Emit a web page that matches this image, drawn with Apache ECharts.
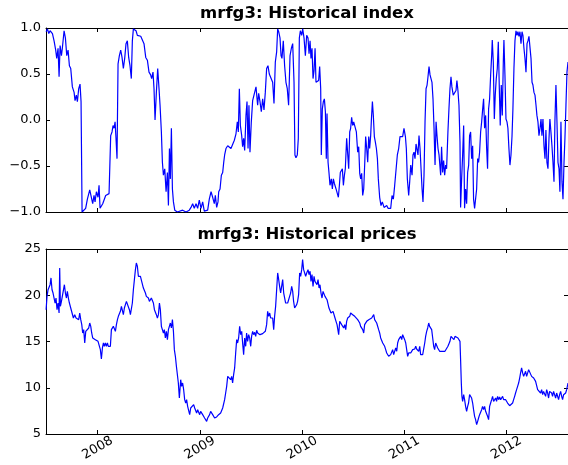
<!DOCTYPE html>
<html>
<head>
<meta charset="utf-8">
<title>mrfg3</title>
<script src="https://cdn.jsdelivr.net/npm/echarts@6/dist/echarts.min.js"></script>
<style>
  html, body { margin: 0; padding: 0; background: #fff; }
  #main { width: 568px; height: 465px; }
</style>
</head>
<body>
<div id="main"></div>
<script>
// time is in decimal years
const yearTicks = [2008, 2009, 2010, 2011, 2012];
const indexTicks = [-1, -0.5, 0, 0.5, 1];
const priceTicks = [5, 10, 15, 20, 25];

// historical index  [year, value]
const indexPoints = [
  [2007.495,0.96],[2007.508,0.99],[2007.521,0.94],[2007.534,0.97],[2007.547,0.96],[2007.557,0.94],
  [2007.573,0.86],[2007.589,0.76],[2007.599,0.67],[2007.612,0.78],[2007.622,0.47],[2007.632,0.81],
  [2007.645,0.70],[2007.654,0.78],[2007.671,0.97],[2007.684,0.89],[2007.697,0.70],[2007.710,0.76],
  [2007.723,0.59],[2007.736,0.56],[2007.752,0.36],[2007.769,0.30],[2007.778,0.21],[2007.791,0.27],
  [2007.801,0.20],[2007.814,0.34],[2007.827,0.39],[2007.837,0.20],[2007.847,-1.0],[2007.866,-1.0],
  [2007.882,-0.96],[2007.899,-0.86],[2007.922,-0.76],[2007.938,-0.78],[2007.951,-0.91],[2007.964,-0.82],
  [2007.974,-0.89],[2007.987,-0.78],[2008.003,-0.84],[2008.013,-0.71],[2008.023,-0.96],[2008.036,-0.96],
  [2008.049,-0.91],[2008.062,-0.89],[2008.078,-0.82],[2008.094,-0.84],[2008.111,-0.80],[2008.127,-0.17],
  [2008.140,-0.13],[2008.150,-0.06],[2008.160,-0.09],[2008.170,-0.02],[2008.179,-0.20],[2008.189,-0.42],
  [2008.199,0.61],[2008.212,0.70],[2008.225,0.76],[2008.238,0.68],[2008.251,0.56],[2008.264,0.67],
  [2008.277,0.83],[2008.290,0.86],[2008.303,0.68],[2008.316,0.59],[2008.329,0.45],[2008.339,0.86],
  [2008.349,0.99],[2008.362,1.0],[2008.375,0.97],[2008.388,0.92],[2008.404,0.94],[2008.421,0.91],
  [2008.437,0.91],[2008.453,0.83],[2008.470,0.68],[2008.486,0.65],[2008.502,0.52],[2008.518,0.49],
  [2008.528,0.45],[2008.541,0.52],[2008.551,0.34],[2008.561,0.0],[2008.574,0.30],[2008.587,0.56],
  [2008.600,0.34],[2008.610,0.16],[2008.623,-0.13],[2008.633,-0.46],[2008.643,-0.60],[2008.656,-0.53],
  [2008.669,-0.78],[2008.682,-0.57],[2008.692,-0.93],[2008.702,-0.31],[2008.711,-0.64],[2008.721,-0.09],
  [2008.731,-0.75],[2008.741,-0.89],[2008.754,-0.98],[2008.780,-1.0],[2008.831,-0.98],[2008.864,-1.0],
  [2008.896,-0.98],[2008.913,-0.95],[2008.929,-0.91],[2008.945,-0.96],[2008.962,-0.91],[2008.978,-0.96],
  [2008.994,-0.87],[2009.011,-0.96],[2009.027,-0.89],[2009.043,-0.99],[2009.060,-1.0],[2009.076,-0.98],
  [2009.092,-0.86],[2009.109,-0.78],[2009.125,-0.84],[2009.141,-0.91],[2009.151,-0.82],[2009.164,-0.95],
  [2009.177,-0.89],[2009.184,-0.78],[2009.197,-0.75],[2009.210,-0.60],[2009.223,-0.57],[2009.233,-0.46],
  [2009.242,-0.38],[2009.255,-0.31],[2009.272,-0.28],[2009.288,-0.29],[2009.304,-0.31],[2009.321,-0.33],
  [2009.337,-0.22],[2009.353,-0.15],[2009.366,-0.02],[2009.376,-0.13],[2009.386,0.34],[2009.396,-0.06],
  [2009.409,-0.17],[2009.418,-0.29],[2009.428,-0.20],[2009.438,-0.33],[2009.451,0.05],[2009.461,0.20],
  [2009.471,-0.31],[2009.480,0.16],[2009.490,-0.35],[2009.503,-0.02],[2009.516,0.21],[2009.533,0.20],
  [2009.549,0.36],[2009.565,0.16],[2009.575,0.29],[2009.588,0.20],[2009.601,0.09],[2009.614,0.23],
  [2009.627,0.11],[2009.640,0.30],[2009.653,0.56],[2009.666,0.59],[2009.679,0.50],[2009.696,0.52],
  [2009.712,0.41],[2009.725,0.18],[2009.738,0.63],[2009.751,0.74],[2009.761,0.99],[2009.771,0.96],
  [2009.784,0.89],[2009.794,0.70],[2009.803,0.67],[2009.816,0.86],[2009.829,0.59],[2009.842,0.41],
  [2009.855,0.34],[2009.868,0.16],[2009.882,0.70],[2009.895,0.78],[2009.908,0.83],[2009.921,0.41],
  [2009.930,-0.38],[2009.940,-0.41],[2009.953,-0.38],[2009.963,-0.20],[2009.973,0.89],[2009.983,0.97],
  [2009.996,0.92],[2010.006,0.99],[2010.019,0.89],[2010.032,0.70],[2010.045,0.92],[2010.058,0.89],
  [2010.068,0.72],[2010.078,0.86],[2010.087,0.67],[2010.097,0.78],[2010.107,0.45],[2010.117,0.54],
  [2010.127,0.78],[2010.136,0.41],[2010.149,0.39],[2010.162,0.43],[2010.172,0.58],[2010.182,0.34],
  [2010.188,-0.38],[2010.198,0.12],[2010.208,0.20],[2010.218,0.23],[2010.228,0.09],[2010.237,-0.42],
  [2010.244,0.07],[2010.254,-0.46],[2010.263,-0.57],[2010.273,-0.71],[2010.286,-0.64],[2010.296,-0.75],
  [2010.306,-0.64],[2010.316,-0.69],[2010.325,-0.71],[2010.335,-0.76],[2010.345,-0.80],[2010.355,-0.84],
  [2010.365,-0.71],[2010.374,-0.57],[2010.384,-0.58],[2010.394,-0.53],[2010.404,-0.71],[2010.414,-0.60],
  [2010.423,-0.53],[2010.436,-0.20],[2010.446,-0.18],[2010.456,-0.53],[2010.466,-0.13],[2010.475,-0.09],
  [2010.485,0.03],[2010.495,-0.06],[2010.505,-0.02],[2010.518,-0.02],[2010.531,-0.13],[2010.544,-0.35],
  [2010.554,-0.29],[2010.564,-0.58],[2010.573,-0.64],[2010.583,-0.58],[2010.593,-0.82],[2010.603,-0.75],
  [2010.613,-0.47],[2010.622,-0.18],[2010.632,-0.31],[2010.642,-0.46],[2010.652,-0.18],[2010.661,-0.31],
  [2010.671,-0.17],[2010.678,0.0],[2010.688,0.20],[2010.697,0.05],[2010.707,-0.18],[2010.717,-0.24],
  [2010.727,-0.31],[2010.737,-0.42],[2010.746,-0.64],[2010.759,-0.84],[2010.772,-0.93],[2010.785,-0.89],
  [2010.802,-0.95],[2010.815,-0.95],[2010.828,-0.93],[2010.841,-0.96],[2010.854,-0.98],[2010.867,-0.96],
  [2010.880,-0.82],[2010.893,-0.86],[2010.906,-0.71],[2010.919,-0.69],[2010.932,-0.38],[2010.945,-0.31],
  [2010.958,-0.18],[2010.971,-0.20],[2010.984,-0.18],[2010.997,-0.09],[2011.011,-0.18],[2011.020,-0.31],
  [2011.030,-0.64],[2011.043,-0.82],[2011.053,-0.67],[2011.063,-0.49],[2011.076,-0.60],[2011.085,-0.38],
  [2011.095,-0.35],[2011.105,-0.42],[2011.115,-0.26],[2011.125,-0.24],[2011.134,-0.38],[2011.144,-0.17],
  [2011.154,-0.31],[2011.164,-0.53],[2011.174,-0.75],[2011.183,-0.89],[2011.193,-0.60],[2011.203,-0.02],
  [2011.213,0.34],[2011.223,0.38],[2011.232,0.47],[2011.242,0.58],[2011.252,0.49],[2011.262,0.47],
  [2011.271,0.41],[2011.281,0.23],[2011.291,-0.09],[2011.301,-0.49],[2011.311,-0.02],[2011.320,-0.17],
  [2011.330,-0.31],[2011.340,-0.38],[2011.350,-0.37],[2011.356,-0.60],[2011.365,-0.29],[2011.375,-0.57],
  [2011.385,-0.44],[2011.395,-0.60],[2011.405,-0.49],[2011.414,-0.53],[2011.427,-0.13],[2011.437,0.12],
  [2011.447,0.34],[2011.457,0.47],[2011.466,0.36],[2011.479,0.27],[2011.493,0.29],[2011.506,0.32],
  [2011.515,0.43],[2011.525,0.32],[2011.535,0.16],[2011.545,-0.24],[2011.551,-0.95],[2011.561,-0.64],
  [2011.571,-0.38],[2011.581,-0.06],[2011.590,-0.96],[2011.600,-0.75],[2011.610,-0.91],[2011.620,-0.57],
  [2011.630,-0.49],[2011.639,-0.17],[2011.649,-0.13],[2011.659,-0.42],[2011.669,-0.28],[2011.678,-0.86],
  [2011.688,-0.96],[2011.698,-0.98],[2011.708,-0.75],[2011.718,-0.42],[2011.727,-0.46],[2011.737,-0.35],
  [2011.747,-0.13],[2011.757,-0.02],[2011.767,0.12],[2011.776,0.23],[2011.786,-0.09],[2011.796,0.05],
  [2011.806,-0.31],[2011.815,-0.53],[2011.825,0.12],[2011.835,0.23],[2011.845,0.49],[2011.855,0.70],
  [2011.861,0.87],[2011.871,0.63],[2011.881,0.01],[2011.890,0.27],[2011.900,0.45],[2011.910,0.56],
  [2011.920,0.85],[2011.930,0.34],[2011.939,-0.06],[2011.949,0.38],[2011.959,0.05],[2011.969,0.63],
  [2011.975,0.87],[2011.985,0.49],[2011.995,0.01],[2012.005,-0.02],[2012.014,-0.09],[2012.024,-0.31],
  [2012.034,-0.49],[2012.044,-0.38],[2012.054,-0.18],[2012.063,0.12],[2012.073,0.56],[2012.083,0.86],
  [2012.093,0.97],[2012.103,0.92],[2012.112,0.96],[2012.122,0.91],[2012.132,0.96],[2012.142,0.83],
  [2012.152,0.96],[2012.161,0.92],[2012.171,0.78],[2012.181,0.67],[2012.191,0.52],[2012.201,0.83],
  [2012.210,0.86],[2012.220,0.91],[2012.230,0.89],[2012.240,0.67],[2012.250,0.41],[2012.259,0.38],
  [2012.269,0.30],[2012.279,0.27],[2012.289,0.16],[2012.298,0.05],[2012.308,-0.02],[2012.318,-0.17],
  [2012.328,-0.09],[2012.338,0.01],[2012.347,-0.17],[2012.357,0.01],[2012.367,-0.28],[2012.377,-0.42],
  [2012.386,-0.11],[2012.396,-0.46],[2012.406,-0.53],[2012.416,-0.20],[2012.425,0.01],[2012.435,-0.13],
  [2012.445,-0.28],[2012.455,-0.46],[2012.465,-0.67],[2012.474,-0.02],[2012.484,0.38],[2012.494,-0.02],
  [2012.504,-0.46],[2012.514,-0.53],[2012.523,-0.78],[2012.533,-0.02],[2012.543,-0.67],[2012.553,-0.86],
  [2012.563,-0.46],[2012.572,-0.20],[2012.582,0.16],[2012.592,0.52],[2012.602,0.63]
];

// historical prices  [year, price]
const pricePoints = [
  [2007.495,18.44],[2007.504,19.88],[2007.514,20.60],[2007.524,20.78],[2007.534,21.14],[2007.543,21.87],
  [2007.553,20.60],[2007.563,20.24],[2007.573,20.42],[2007.583,19.16],[2007.592,19.70],[2007.602,18.44],
  [2007.612,19.16],[2007.622,18.08],[2007.628,22.95],[2007.635,18.80],[2007.645,19.34],[2007.654,19.16],
  [2007.664,19.52],[2007.674,21.14],[2007.684,20.24],[2007.694,19.70],[2007.703,20.42],[2007.713,19.70],
  [2007.723,19.16],[2007.736,18.98],[2007.749,18.08],[2007.762,17.54],[2007.775,17.90],[2007.788,17.54],
  [2007.801,17.72],[2007.814,17.36],[2007.824,18.08],[2007.834,17.36],[2007.844,16.82],[2007.853,15.92],
  [2007.863,16.28],[2007.873,14.84],[2007.883,16.10],[2007.892,16.10],[2007.902,16.28],[2007.912,16.46],
  [2007.922,17.00],[2007.932,16.64],[2007.941,15.92],[2007.951,15.38],[2007.964,15.20],[2007.977,15.20],
  [2007.990,15.02],[2008.003,15.02],[2008.016,14.84],[2008.026,14.12],[2008.036,13.11],[2008.046,14.30],
  [2008.056,14.84],[2008.065,14.48],[2008.075,14.84],[2008.085,14.48],[2008.095,14.84],[2008.104,14.48],
  [2008.114,14.30],[2008.124,14.48],[2008.134,16.28],[2008.144,16.46],[2008.153,16.64],[2008.163,16.82],
  [2008.173,16.10],[2008.183,16.82],[2008.193,17.36],[2008.202,17.72],[2008.212,17.90],[2008.222,18.26],
  [2008.232,18.80],[2008.241,18.98],[2008.251,17.90],[2008.261,18.62],[2008.271,18.98],[2008.281,19.34],
  [2008.290,19.52],[2008.300,19.16],[2008.310,18.44],[2008.320,17.90],[2008.330,17.72],[2008.339,19.16],
  [2008.349,20.60],[2008.359,21.69],[2008.369,22.77],[2008.378,23.49],[2008.388,23.13],[2008.398,22.05],
  [2008.408,22.23],[2008.418,22.05],[2008.427,22.23],[2008.437,22.05],[2008.447,20.78],[2008.457,20.60],
  [2008.467,20.24],[2008.476,19.88],[2008.486,19.88],[2008.496,19.70],[2008.506,19.34],[2008.515,19.52],
  [2008.525,19.70],[2008.535,19.52],[2008.545,19.16],[2008.555,18.44],[2008.564,18.62],[2008.574,17.90],
  [2008.584,17.54],[2008.594,17.90],[2008.604,19.16],[2008.613,18.44],[2008.623,16.64],[2008.633,16.46],
  [2008.643,15.92],[2008.652,16.28],[2008.662,15.38],[2008.672,16.10],[2008.682,15.20],[2008.692,16.28],
  [2008.701,16.10],[2008.711,17.00],[2008.721,16.46],[2008.731,17.36],[2008.741,16.10],[2008.750,14.12],
  [2008.760,13.40],[2008.770,12.32],[2008.780,12.14],[2008.789,10.51],[2008.799,8.89],[2008.812,10.87],
  [2008.821,10.15],[2008.831,10.51],[2008.841,9.79],[2008.851,8.71],[2008.861,8.35],[2008.870,8.71],
  [2008.880,7.99],[2008.890,8.17],[2008.900,7.09],[2008.910,7.81],[2008.919,7.63],[2008.929,7.99],
  [2008.939,8.17],[2008.949,7.81],[2008.958,7.63],[2008.968,7.27],[2008.978,7.63],[2008.988,7.45],
  [2008.998,7.09],[2009.007,7.45],[2009.017,7.27],[2009.027,7.09],[2009.037,6.91],[2009.046,6.73],
  [2009.056,6.55],[2009.066,6.37],[2009.076,6.73],[2009.086,6.91],[2009.095,7.09],[2009.105,7.45],
  [2009.115,7.27],[2009.125,7.09],[2009.135,6.91],[2009.144,6.73],[2009.154,6.91],[2009.164,6.84],
  [2009.174,6.91],[2009.183,7.09],[2009.193,7.09],[2009.203,7.27],[2009.213,7.45],[2009.223,7.81],
  [2009.232,7.99],[2009.242,8.71],[2009.252,9.43],[2009.262,10.15],[2009.272,11.23],[2009.281,11.41],
  [2009.291,11.05],[2009.301,10.87],[2009.311,11.23],[2009.320,10.51],[2009.330,11.41],[2009.340,12.14],
  [2009.350,13.76],[2009.360,15.20],[2009.369,14.84],[2009.379,15.38],[2009.389,16.64],[2009.399,15.74],
  [2009.409,16.10],[2009.418,14.84],[2009.428,13.58],[2009.438,15.38],[2009.448,14.48],[2009.457,15.92],
  [2009.467,15.02],[2009.477,15.74],[2009.487,15.38],[2009.497,14.48],[2009.506,15.56],[2009.516,16.10],
  [2009.526,15.74],[2009.536,15.99],[2009.546,15.56],[2009.555,16.21],[2009.565,15.92],[2009.575,15.85],
  [2009.588,15.74],[2009.601,15.92],[2009.614,15.85],[2009.627,15.92],[2009.640,16.10],[2009.653,16.82],
  [2009.663,18.26],[2009.673,17.72],[2009.683,18.08],[2009.692,17.54],[2009.702,17.36],[2009.712,17.54],
  [2009.722,16.28],[2009.731,17.72],[2009.741,18.80],[2009.751,18.98],[2009.761,22.41],[2009.771,21.69],
  [2009.780,20.96],[2009.790,20.24],[2009.800,20.96],[2009.810,21.69],[2009.820,20.24],[2009.829,20.06],
  [2009.839,19.16],[2009.849,19.34],[2009.859,19.16],[2009.868,18.98],[2009.878,19.88],[2009.888,20.24],
  [2009.898,20.96],[2009.908,20.42],[2009.917,19.34],[2009.927,18.62],[2009.937,18.80],[2009.947,18.98],
  [2009.956,19.34],[2009.966,20.06],[2009.976,22.41],[2009.986,22.05],[2009.996,22.77],[2010.005,23.85],
  [2010.015,22.77],[2010.025,22.95],[2010.035,22.05],[2010.045,22.41],[2010.058,22.77],[2010.068,22.23],
  [2010.078,22.59],[2010.087,21.50],[2010.097,22.23],[2010.107,20.96],[2010.117,22.05],[2010.126,21.50],
  [2010.136,21.69],[2010.146,21.14],[2010.156,21.69],[2010.166,20.78],[2010.175,21.14],[2010.185,20.24],
  [2010.195,19.70],[2010.205,20.42],[2010.215,20.24],[2010.224,19.88],[2010.234,20.06],[2010.244,19.52],
  [2010.254,19.34],[2010.263,18.62],[2010.273,18.44],[2010.283,18.08],[2010.293,18.26],[2010.303,18.26],
  [2010.312,18.08],[2010.322,17.54],[2010.332,17.18],[2010.342,16.82],[2010.352,16.82],[2010.358,15.74],
  [2010.368,17.18],[2010.378,17.36],[2010.387,16.82],[2010.397,16.64],[2010.407,16.46],[2010.417,16.82],
  [2010.427,16.28],[2010.436,17.18],[2010.446,17.54],[2010.456,17.36],[2010.466,17.72],[2010.475,18.08],
  [2010.485,18.26],[2010.495,17.90],[2010.505,18.01],[2010.515,17.72],[2010.524,17.90],[2010.534,17.54],
  [2010.544,17.36],[2010.554,17.54],[2010.564,17.00],[2010.573,16.64],[2010.583,16.46],[2010.593,16.28],
  [2010.603,15.92],[2010.612,16.82],[2010.622,17.00],[2010.632,17.18],[2010.642,17.07],[2010.652,17.36],
  [2010.661,17.18],[2010.671,17.43],[2010.681,17.54],[2010.691,17.72],[2010.701,17.90],[2010.710,17.36],
  [2010.720,17.18],[2010.730,17.00],[2010.740,16.82],[2010.749,16.28],[2010.759,15.92],[2010.769,15.38],
  [2010.779,15.20],[2010.789,14.84],[2010.798,14.66],[2010.808,14.48],[2010.818,14.12],[2010.828,13.76],
  [2010.838,13.76],[2010.847,13.40],[2010.857,13.22],[2010.867,13.58],[2010.877,13.40],[2010.886,14.12],
  [2010.896,13.58],[2010.906,13.76],[2010.916,14.30],[2010.926,13.94],[2010.935,14.84],[2010.945,15.20],
  [2010.955,15.38],[2010.965,15.56],[2010.975,15.20],[2010.984,15.74],[2010.994,15.56],[2011.004,15.20],
  [2011.014,14.84],[2011.023,14.84],[2011.033,13.40],[2011.043,13.76],[2011.053,13.69],[2011.063,13.76],
  [2011.072,13.83],[2011.082,14.12],[2011.092,14.30],[2011.102,14.19],[2011.112,14.48],[2011.121,14.19],
  [2011.131,14.30],[2011.141,13.94],[2011.151,14.48],[2011.160,13.58],[2011.170,13.40],[2011.180,13.58],
  [2011.190,13.76],[2011.200,14.84],[2011.209,15.56],[2011.219,16.10],[2011.229,16.46],[2011.239,17.00],
  [2011.248,16.64],[2011.258,16.46],[2011.268,16.28],[2011.278,15.38],[2011.288,14.48],[2011.297,14.12],
  [2011.307,14.84],[2011.317,14.66],[2011.327,14.30],[2011.337,14.12],[2011.346,13.94],[2011.356,14.12],
  [2011.378,13.94],[2011.388,14.12],[2011.398,13.94],[2011.408,14.05],[2011.417,14.12],[2011.427,14.48],
  [2011.437,14.66],[2011.447,15.02],[2011.457,15.56],[2011.466,15.74],[2011.476,15.38],[2011.486,15.20],
  [2011.496,15.56],[2011.506,15.38],[2011.515,15.74],[2011.525,15.38],[2011.535,15.20],[2011.545,15.02],
  [2011.551,13.04],[2011.558,10.51],[2011.564,9.07],[2011.571,8.53],[2011.581,9.25],[2011.590,8.71],
  [2011.600,7.99],[2011.610,7.45],[2011.620,7.99],[2011.629,8.35],[2011.639,9.25],[2011.649,9.43],
  [2011.659,8.89],[2011.669,8.35],[2011.678,7.63],[2011.688,6.91],[2011.698,6.55],[2011.708,6.01],
  [2011.718,6.37],[2011.727,6.73],[2011.737,7.09],[2011.747,7.27],[2011.757,7.63],[2011.766,7.99],
  [2011.776,7.63],[2011.786,7.99],[2011.796,7.45],[2011.806,7.27],[2011.815,6.91],[2011.825,6.55],
  [2011.835,7.99],[2011.845,8.35],[2011.855,8.71],[2011.864,9.07],[2011.874,8.53],[2011.884,8.71],
  [2011.894,8.89],[2011.903,8.53],[2011.913,9.07],[2011.923,8.71],[2011.933,9.00],[2011.943,8.71],
  [2011.952,8.89],[2011.962,9.07],[2011.972,8.71],[2011.982,8.89],[2011.992,8.71],[2012.001,8.53],
  [2012.011,8.35],[2012.021,8.17],[2012.031,8.06],[2012.040,8.06],[2012.050,8.17],[2012.060,8.35],
  [2012.070,8.71],[2012.080,9.07],[2012.089,9.43],[2012.099,9.79],[2012.109,10.15],[2012.119,10.51],
  [2012.129,11.05],[2012.138,11.60],[2012.148,12.14],[2012.158,11.60],[2012.168,11.23],[2012.177,11.41],
  [2012.187,11.78],[2012.197,11.23],[2012.207,11.41],[2012.217,11.96],[2012.226,12.03],[2012.236,11.78],
  [2012.246,11.23],[2012.256,11.31],[2012.266,11.05],[2012.275,10.87],[2012.285,10.69],[2012.295,10.51],
  [2012.305,9.79],[2012.314,9.61],[2012.324,9.79],[2012.334,9.43],[2012.344,9.79],[2012.354,9.25],
  [2012.363,9.61],[2012.373,9.61],[2012.383,9.07],[2012.393,9.79],[2012.403,9.43],[2012.412,8.89],
  [2012.422,9.61],[2012.432,9.79],[2012.442,9.43],[2012.451,9.07],[2012.461,9.61],[2012.471,9.79],
  [2012.481,8.89],[2012.491,9.43],[2012.500,9.61],[2012.510,8.71],[2012.520,9.25],[2012.530,9.61],
  [2012.540,9.07],[2012.549,8.71],[2012.559,9.25],[2012.569,9.07],[2012.579,9.43],[2012.589,9.79],
  [2012.602,10.51]
];

const xMin = 2007.494;
const xMax = 2012.602;

const FONT = 'DejaVu Sans';
// spines stay on the frame, never on zero
const frame = { show: true, onZero: false, lineStyle: { color: '#000', width: 1 } };

// x axis (bottom or top spine) of one subplot
function xAxisOf(gridIndex, position, withLabels) {
  return {
    type: 'value', gridIndex: gridIndex, position: position,
    min: xMin, max: xMax,
    axisLine: frame,
    axisTick: { show: true, inside: true, length: 4, customValues: yearTicks, lineStyle: { color: '#000' } },
    axisLabel: withLabels ? {
      show: true, customValues: yearTicks, rotate: 30, margin: 14,
      align: 'center', verticalAlign: 'middle',
      fontFamily: FONT, fontSize: 13, color: '#000',
      formatter: v => String(v)
    } : { show: false },
    splitLine: { show: false }
  };
}

// y axis (left or right spine) of one subplot
function yAxisOf(gridIndex, position, ticks, fmt) {
  return {
    type: 'value', gridIndex: gridIndex, position: position,
    min: ticks[0], max: ticks[ticks.length - 1], interval: ticks[1] - ticks[0],
    axisLine: frame,
    axisTick: { show: true, inside: true, length: 4, lineStyle: { color: '#000' } },
    axisLabel: fmt ? { show: true, margin: 5, fontFamily: FONT, fontSize: 13, color: '#000', formatter: fmt } : { show: false },
    splitLine: { show: false }
  };
}

const indexFmt = v => (v < 0 ? '\u2212' : '') + Math.abs(v).toFixed(1);
const priceFmt = v => String(v);

const chart = echarts.init(document.getElementById('main'));
chart.setOption({
  animation: false,
  backgroundColor: '#fff',
  title: [
    { text: 'mrfg3: Historical index', left: 307, top: 5, textAlign: 'center', padding: 0,
      textStyle: { fontFamily: FONT, fontWeight: 'bold', fontSize: 16.5, color: '#000' } },
    { text: 'mrfg3: Historical prices', left: 307, top: 226, textAlign: 'center', padding: 0,
      textStyle: { fontFamily: FONT, fontWeight: 'bold', fontSize: 16.5, color: '#000' } }
  ],
  grid: [
    { left: 46, right: 0, top: 28, height: 184 },
    { left: 46, right: 0, top: 249, height: 185 }
  ],
  xAxis: [
    xAxisOf(0, 'bottom', false),
    xAxisOf(0, 'top', false),
    xAxisOf(1, 'bottom', true),
    xAxisOf(1, 'top', false)
  ],
  yAxis: [
    yAxisOf(0, 'left', indexTicks, indexFmt),
    yAxisOf(0, 'right', indexTicks, null),
    yAxisOf(1, 'left', priceTicks, priceFmt),
    yAxisOf(1, 'right', priceTicks, null)
  ],
  series: [
    {
      name: 'index', type: 'line', xAxisIndex: 0, yAxisIndex: 0,
      data: indexPoints, showSymbol: false, clip: true,
      lineStyle: { color: '#0000ff', width: 1.2 }
    },
    {
      name: 'prices', type: 'line', xAxisIndex: 2, yAxisIndex: 2,
      data: pricePoints, showSymbol: false, clip: true,
      lineStyle: { color: '#0000ff', width: 1.2 }
    }
  ]
});
</script>
</body>
</html>
